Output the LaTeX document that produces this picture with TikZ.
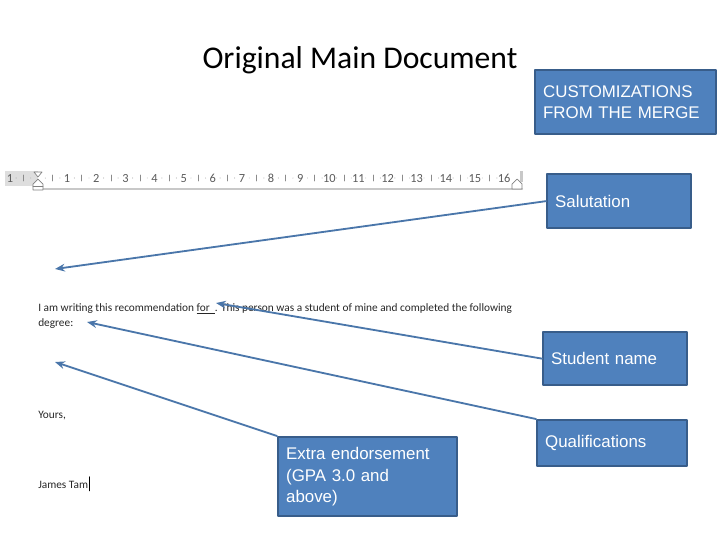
\documentclass[tikz,border=0pt]{standalone}
\usepackage{fontspec}
\setmainfont{Carlito}
\newfontfamily\arialfont{Liberation Sans}
\usetikzlibrary{arrows.meta}
\definecolor{boxfill}{RGB}{79,129,189}
\definecolor{boxline}{RGB}{56,93,138}
\definecolor{arrowcol}{RGB}{74,118,170}
\definecolor{rulergray}{RGB}{200,200,200}
\definecolor{rulertext}{RGB}{90,90,90}
\begin{document}
\begin{tikzpicture}[x=0.025cm,y=-0.025cm,line cap=round,line join=round,
  mergebox/.style={draw=boxline,fill=boxfill,line width=1.6pt,text=white,
    font=\arialfont\fontsize{12}{15.3}\selectfont,align=left,anchor=north west,
    inner xsep=0.2cm,inner ysep=0pt},
  doctext/.style={anchor=base west,inner sep=0pt,text=black!85,
    font=\fontsize{8.05}{9.6}\selectfont},
  rulernum/.style={anchor=base,inner sep=0pt,font=\fontsize{8.8}{10}\selectfont,text=rulertext},
  pointer/.style={draw=arrowcol,line width=1.3pt,-{Stealth[length=7pt,width=5.5pt]}}]
  \useasboundingbox (0,0) rectangle (720,540);
  % title
  \node[font=\fontsize{22.5}{26}\selectfont] (title) at (360,60) {Original Main Document};
  % ruler
  \fill[rulergray!60] (5,171) rectangle (38,186);
  \draw[rulergray,line width=1.5pt] (38,189) -- (522,189);
  \node[rulernum] at (10,182) {1};
  \foreach \k in {1,...,16}{
    \node[rulernum] at (38+29.13*\k,182) {\k};
  }
  \foreach \k in {-1,...,15}{
    \fill[rulertext!70] (38+29.13*\k+7.3,178) circle[radius=0.45];
    \draw[rulertext!70,line width=0.4pt] (38+29.13*\k+14.6,175) -- (38+29.13*\k+14.6,181);
    \fill[rulertext!70] (38+29.13*\k+21.9,178) circle[radius=0.45];
  }
  \draw[gray,fill=white,line width=0.5pt] (34,172) -- (42,172) -- (38,177) -- cycle;
  \draw[gray,fill=white,line width=0.5pt] (33,190) -- (33,184) -- (38,179) -- (43,184) -- (43,190) -- cycle;
  \draw[gray,line width=0.5pt] (33,186) -- (43,186);
  \draw[gray,fill=white,line width=0.5pt] (512,189) -- (512,184) -- (517,179) -- (522,184) -- (522,189) -- cycle;
  \fill[rulergray] (520,171) rectangle (523,182);
  % letter
  \node[doctext] (body) at (38,311) {I am writing this recommendation \underline{for\ \ }. This person was a student of mine and completed the following};
  \node[doctext] (degree) at (38,326) {degree:};
  \node[doctext] (closing) at (38,418) {Yours,};
  \node[doctext] (signer) at (38,488) {James Tam};
  \draw[black,line width=0.6pt] ([xshift=1pt,yshift=-2pt]signer.base east) -- ([xshift=1pt,yshift=8pt]signer.base east);
  % merge boxes
  \node[mergebox,text width=4.125cm,minimum height=1.6cm] (custom) at (534,69)
    {CUSTOMIZATIONS\\FROM THE MERGE};
  \node[mergebox,text width=3.2cm,minimum height=1.35cm] (salut) at (546,173) {Salutation};
  \node[mergebox,text width=3.2cm,minimum height=1.325cm] (student) at (542,331) {Student name};
  \node[mergebox,text width=3.35cm,minimum height=1.15cm] (qualif) at (536,419) {Qualifications};
  \node[mergebox,text width=4.075cm,minimum height=1.975cm] (extra) at (277,436)
    {Extra endorsement\\(GPA 3.0 and\\above)};
  % pointers
  \coordinate (salpt) at (55,269);
  \coordinate (forpt) at (216,303);
  \coordinate (degpt) at (87,322);
  \coordinate (extrapt) at (55,362);
  \draw[pointer] (salut.west) -- (salpt);
  \draw[pointer] (student.west) -- (forpt);
  \draw[pointer] (qualif.north west) -- (degpt);
  \draw[pointer] (extra.north west) -- (extrapt);
\end{tikzpicture}
\end{document}
